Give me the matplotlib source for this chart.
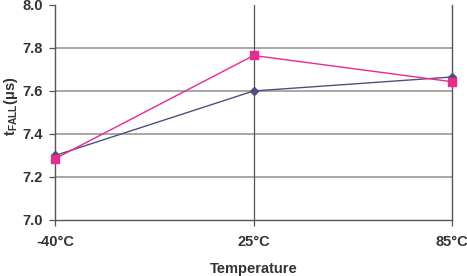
import matplotlib
matplotlib.use("Agg")
import matplotlib.pyplot as plt

plt.rcParams["font.family"] = ["Liberation Sans", "DejaVu Sans"]
plt.rcParams["mathtext.fontset"] = "custom"
plt.rcParams["mathtext.bf"] = "Liberation Sans:bold"
plt.rcParams["mathtext.rm"] = "Liberation Sans"

temps = ["-40°C", "25°C", "85°C"]
navy_vals = [7.30, 7.60, 7.665]
pink_vals = [7.285, 7.765, 7.643]

C_NAVY = "#4f4f7d"
C_PINK = "#ea2a8c"

fig = plt.figure(figsize=(4.67, 2.76), dpi=100)
ax = fig.add_axes([0.118, 0.203, 0.850, 0.779])

x = list(range(len(temps)))
ax.plot(x, navy_vals, color=C_NAVY, lw=1.0, marker="D", ms=4.5, zorder=4,
        clip_on=False)
ax.plot(x, pink_vals, color=C_PINK, lw=1.0, marker="s", ms=6, zorder=5,
        clip_on=False)

ax.set_xlim(0, 2)
ax.set_ylim(7.0, 8.0)
yt = [7.0, 7.2, 7.4, 7.6, 7.8, 8.0]
ax.set_yticks(yt)
ax.set_yticklabels([f"{v:.1f}" for v in yt])
ax.set_xticks(x)
ax.set_xticklabels(temps)

for v in [7.2, 7.4, 7.6, 7.8]:
    ax.axhline(v, color="#a0a0a0", lw=1.3, zorder=1)
ax.axvline(1, color="#555555", lw=0.9, zorder=1)

ax.spines["top"].set_visible(False)
for s in ["left", "bottom", "right"]:
    ax.spines[s].set_color("#555555")
    ax.spines[s].set_linewidth(1.0)

ax.tick_params(axis="y", length=4, width=0.9, color="#555555", pad=5,
               labelsize=10.5, labelcolor="#333333")
ax.tick_params(axis="x", length=4, width=0.9, color="#555555", pad=7,
               labelsize=10.5, labelcolor="#333333")
for lab in ax.get_xticklabels() + ax.get_yticklabels():
    lab.set_fontweight("bold")

ax.set_xlabel("Temperature", fontsize=10.5, fontweight="bold", color="#333333",
              labelpad=9)
ax.set_ylabel(r"t$_\mathbf{FALL}$(μs)", fontsize=10.5, fontweight="bold",
              color="#333333")
ax.yaxis.set_label_coords(-0.088, 0.53)

fig.savefig("out.png", dpi=100)
